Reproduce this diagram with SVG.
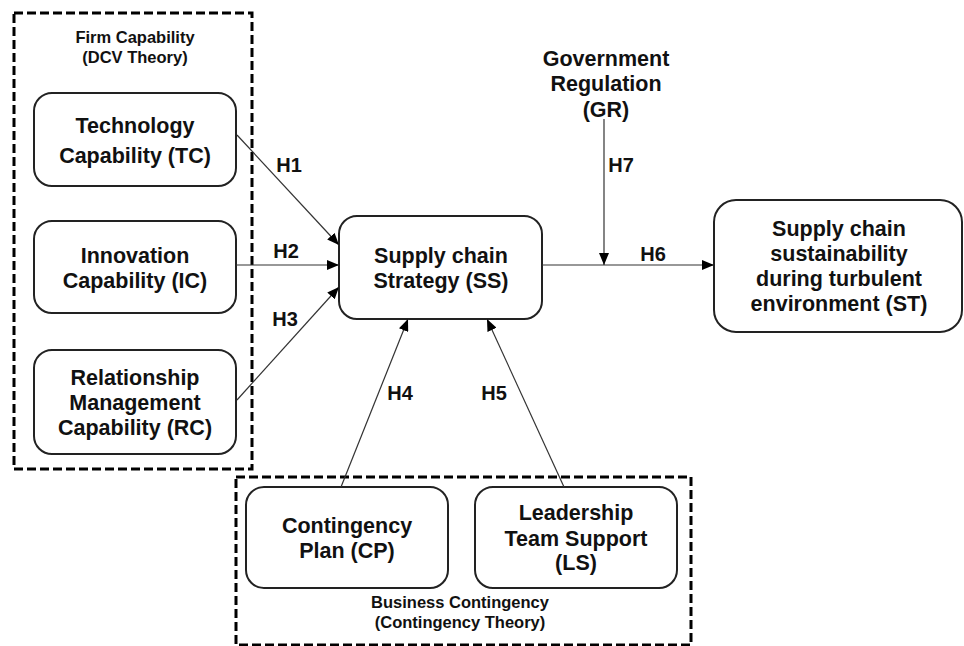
<svg xmlns="http://www.w3.org/2000/svg" width="964" height="646" viewBox="0 0 964 646">
<defs>
<marker id="arr" viewBox="0 0 12 10" refX="12" refY="5" markerWidth="12" markerHeight="10" markerUnits="userSpaceOnUse" orient="auto">
<path d="M0,0 L12,5 L0,10 Z" fill="#000"/>
</marker>
</defs>
<style>
.box{fill:#fff;stroke:#222;stroke-width:2}
.grp{fill:none;stroke:#000;stroke-width:3;stroke-dasharray:9 4}
.t{font-family:"Liberation Sans",Arial,sans-serif;font-weight:bold;font-size:21.5px;fill:#111;text-anchor:middle}
.h{font-family:"Liberation Sans",Arial,sans-serif;font-weight:bold;font-size:20px;fill:#111;text-anchor:middle}
.s{font-family:"Liberation Sans",Arial,sans-serif;font-weight:bold;font-size:16.5px;fill:#111;text-anchor:middle}
.c{stroke:#333;stroke-width:1.2;fill:none;marker-end:url(#arr)}
</style>
<rect width="964" height="646" fill="#fff"/>
<g id="firm-capability">
<rect class="grp" x="14" y="13" width="238" height="456"/>
<text class="s" x="135" y="43">Firm Capability</text>
<text class="s" x="135" y="63">(DCV Theory)</text>
</g>
<g id="business-contingency">
<rect class="grp" x="236" y="477" width="455" height="168"/>
<text class="s" x="460" y="608">Business Contingency</text>
<text class="s" x="460" y="628">(Contingency Theory)</text>
</g>
<g id="TC">
<rect class="box" x="34" y="93" width="202" height="93" rx="18"/>
<text class="t" x="135" y="133">Technology</text>
<text class="t" x="135" y="163">Capability (TC)</text>
</g>
<g id="IC">
<rect class="box" x="34" y="221" width="202" height="92" rx="18"/>
<text class="t" x="135" y="263">Innovation</text>
<text class="t" x="135" y="288">Capability (IC)</text>
</g>
<g id="RC">
<rect class="box" x="34" y="350" width="202" height="104" rx="18"/>
<text class="t" x="135" y="385">Relationship</text>
<text class="t" x="135" y="410">Management</text>
<text class="t" x="135" y="435">Capability (RC)</text>
</g>
<g id="SS">
<rect class="box" x="339" y="216" width="203" height="103" rx="18"/>
<text class="t" x="441" y="263">Supply chain</text>
<text class="t" x="441" y="288">Strategy (SS)</text>
</g>
<g id="ST">
<rect class="box" x="714" y="200" width="248" height="132" rx="22"/>
<text class="t" x="839" y="236">Supply chain</text>
<text class="t" x="839" y="261">sustainability</text>
<text class="t" x="839" y="286">during turbulent</text>
<text class="t" x="839" y="311">environment (ST)</text>
</g>
<g id="GR">
<text class="t" x="606" y="66">Government</text>
<text class="t" x="606" y="91">Regulation</text>
<text class="t" x="606" y="117">(GR)</text>
</g>
<g id="CP">
<rect class="box" x="246" y="487" width="202" height="101" rx="18"/>
<text class="t" x="347" y="533">Contingency</text>
<text class="t" x="347" y="558">Plan (CP)</text>
</g>
<g id="LS">
<rect class="box" x="475" y="487" width="202" height="101" rx="18"/>
<text class="t" x="576" y="520">Leadership</text>
<text class="t" x="576" y="546">Team Support</text>
<text class="t" x="576" y="570">(LS)</text>
</g>
<g id="connectors">
<line class="c" x1="237" y1="135" x2="339" y2="245"/>
<line class="c" x1="236" y1="265" x2="339" y2="265"/>
<line class="c" x1="237" y1="400" x2="339" y2="287"/>
<line class="c" x1="341" y1="487" x2="408" y2="319"/>
<line class="c" x1="564" y1="487" x2="487" y2="319"/>
<line class="c" x1="542" y1="265" x2="714" y2="265"/>
<line class="c" x1="604" y1="119" x2="604" y2="265"/>
<text class="h" x="289" y="172">H1</text>
<text class="h" x="286" y="258">H2</text>
<text class="h" x="285" y="326">H3</text>
<text class="h" x="400" y="400">H4</text>
<text class="h" x="494" y="400">H5</text>
<text class="h" x="653" y="261">H6</text>
<text class="h" x="621" y="172">H7</text>
</g>
</svg>
